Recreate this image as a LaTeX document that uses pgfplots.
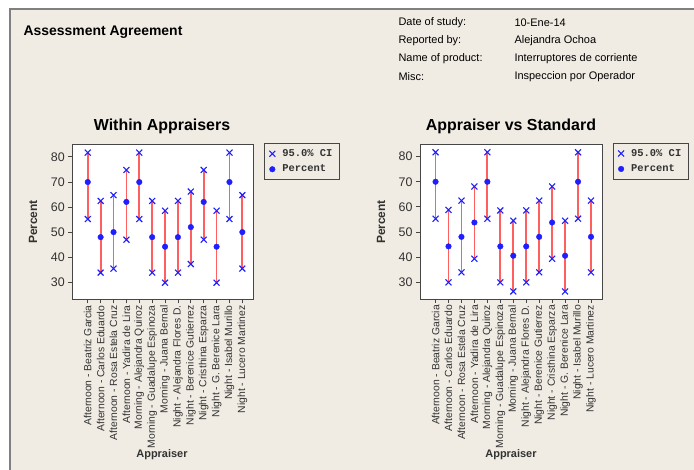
\documentclass[border=0pt]{standalone}
\usepackage{fontspec}
\setmainfont{Liberation Sans}
\setmonofont{Liberation Mono}
\usepackage{pgfplots}
\pgfplotsset{compat=1.18}
\usepackage{pgfplotstable}

\definecolor{bg}{RGB}{240,236,227}
\definecolor{ciblue}{RGB}{30,30,255}
\definecolor{cired}{RGB}{255,95,95}
\definecolor{framec}{RGB}{70,70,70}
\definecolor{txt}{RGB}{50,50,50}

\pgfplotstableread{
x lo p hi
0 55.3 70.0 81.7
1 34.0 48.1 62.5
2 35.6 50.1 64.8
3 47.1 62.1 74.8
4 55.3 70.0 81.7
5 34.0 48.1 62.5
6 30.0 44.3 58.6
7 34.0 48.1 62.5
8 37.4 52.1 66.2
9 47.1 62.1 74.8
10 30.0 44.3 58.6
11 55.3 70.0 81.7
12 35.6 50.1 64.8
}\within

\pgfplotstableread{
x lo p hi
0 55.3 70.0 81.7
1 30.0 44.3 58.8
2 34.0 48.1 62.5
3 39.4 53.8 68.1
4 55.3 70.0 81.7
5 30.0 44.3 58.6
6 26.4 40.6 54.5
7 30.0 44.3 58.6
8 34.0 48.1 62.5
9 39.4 53.8 68.1
10 26.4 40.6 54.5
11 55.3 70.0 81.7
12 34.0 48.1 62.5
}\standard

\pgfplotsset{agree/.style={
  scale only axis, width=181bp, height=155bp, anchor=south west,
  xmin=-1.2, xmax=12.85, ymin=23.4, ymax=85,
  axis background/.style={fill=white},
  axis line style={framec, line width=0.9bp},
  ytick={30,40,...,80},
  xtick={0,...,12},
  xticklabels={Afternoon - Beatriz Garcia, Afternoon - Carlos Eduardo, Afternoon - Rosa Estela Cruz, Afternoon - Yadira de Lira, Morning - Alejandra Quiroz, Morning - Guadalupe Espinoza, Morning - Juana Bernal, Night - Alejandra Flores D., Night - Berenice Gutierrez, Night - Cristhina Esparza, Night - G. Berenice Lara, Night - Isabel Murillo, Night - Lucero Martinez},
  tick align=outside, tick pos=left,
  tick style={framec, line width=0.8bp}, major tick length=4bp,
  x tick label style={rotate=90, anchor=east, font=\fontsize{10.4}{11}\selectfont, text=txt, inner sep=2bp},
  y tick label style={font=\fontsize{12.5}{14}\selectfont, text=txt},
  /pgf/number format/assume math mode=true,
  legend style={at={(1.06,1.006)}, anchor=north west, draw=framec, fill=none,
    font=\ttfamily\bfseries\fontsize{10.5}{12}\selectfont, text=txt,
    inner xsep=5bp, inner ysep=4bp, row sep=3bp,
    /tikz/every odd column/.append style={column sep=5bp}},
  legend cell align=left,
}}

\newcommand{\ciplots}[1]{%
  \addplot[cired, line width=1.8bp, forget plot, mark=none,
    quiver={u=0, v=\thisrow{hi}-\thisrow{lo}}]
    table[x=x, y=lo] {#1};
  \addplot[only marks, mark=x, mark size=4.2bp, ciblue, mark options={line width=1.1bp}] table[x=x, y=lo] {#1};
  \addlegendentry{95.0\% CI}
  \addplot[only marks, mark=x, mark size=4.2bp, ciblue, mark options={line width=1.1bp}, forget plot] table[x=x, y=hi] {#1};
  \addplot[only marks, mark=*, mark size=2.8bp, ciblue] table[x=x, y=p] {#1};
  \addlegendentry{Percent}
}

\begin{document}
\begin{tikzpicture}[x=1bp,y=1bp]
\path[use as bounding box] (0,0) rectangle (694,470);
\fill[white] (0,0) rectangle (694,470);
\fill[bg] (10,0) rectangle (694,461);
\draw[gray, line width=1.2bp] (10,0) -- (10,461) -- (694,461);

\node[anchor=west, font=\bfseries\fontsize{14}{16}\selectfont, text=black] at (20,438) {Assessment Agreement};
\begin{scope}[every node/.style={anchor=west, font=\fontsize{11}{12}\selectfont, text=black}]
\node at (395,447) {Date of study:};
\node at (511,447) {10-Ene-14};
\node at (395,429) {Reported by:};
\node at (511,429) {Alejandra Ochoa};
\node at (395,411) {Name of product:};
\node at (511,411) {Interruptores de corriente};
\node at (395,393) {Misc:};
\node at (511,393) {Inspeccion por Operador};
\end{scope}

\node[font=\bfseries\fontsize{16}{18}\selectfont] at (162,344) {Within Appraisers};
\node[font=\bfseries\fontsize{16}{18}\selectfont] at (511,344) {Appraiser vs Standard};

\begin{axis}[agree, at={(72.3bp,170.7bp)}]
\ciplots{\within}
\end{axis}
\begin{axis}[agree, at={(420bp,171bp)}, width=182bp]
\ciplots{\standard}
\end{axis}

\node[rotate=90, font=\bfseries\fontsize{12}{14}\selectfont, text=txt] at (33,248) {Percent};
\node[rotate=90, font=\bfseries\fontsize{12}{14}\selectfont, text=txt] at (381,248) {Percent};
\node[font=\bfseries\fontsize{11}{13}\selectfont, text=txt] at (162,15) {Appraiser};
\node[font=\bfseries\fontsize{11}{13}\selectfont, text=txt] at (511,15) {Appraiser};
\end{tikzpicture}
\end{document}
